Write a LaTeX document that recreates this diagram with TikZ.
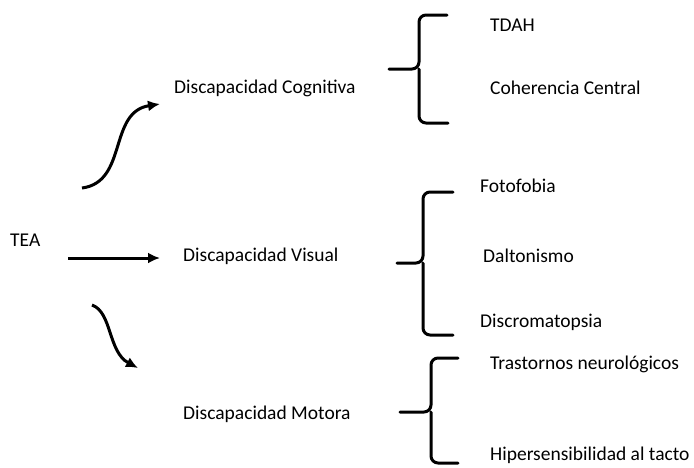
\documentclass[tikz,border=0pt]{standalone}
\usepackage{fontspec}
\setmainfont{Carlito}
\usetikzlibrary{arrows.meta}

\tikzset{
  lbl/.style={anchor=west,inner sep=0pt,font=\fontsize{19.5}{22}\selectfont},
  arr/.style={line width=3pt,-{Latex[length=12pt,width=11pt]}},
  brace/.style={line width=3pt,rounded corners=7pt,line cap=round}
}

\begin{document}
\begin{tikzpicture}[x=1pt,y=-1pt]
  \useasboundingbox (0,0) rectangle (694,467);
  % main node and categories
  \node[lbl] (tea) at (10,240) {TEA};
  \node[lbl] (cog) at (174,88) {Discapacidad Cognitiva};
  \node[lbl] (vis) at (183,256) {Discapacidad Visual};
  \node[lbl] (mot) at (183,414) {Discapacidad Motora};
  % arrows
  \coordinate (a1) at (82,188);  \coordinate (b1) at (160,104);
  \coordinate (a2) at (68,258);  \coordinate (b2) at (160,258);
  \coordinate (a3) at (92,305);  \coordinate (b3) at (138,368);
  \draw[arr] (a1) .. controls (128,182) and (108,112) .. (b1);
  \draw[arr] (a2) -- (b2);
  \draw[arr] (a3) .. controls (112,312) and (108,352) .. (b3);
  % braces
  \draw[brace] (447,15) -- (419,15) -- (419,69) -- (389,69)
               (419,69) -- (419,123) -- (448,123);
  \draw[brace] (453,192) -- (423,192) -- (423,263) -- (397,263)
               (423,263) -- (423,335) -- (453,335);
  \draw[brace] (458,358) -- (431,358) -- (431,412) -- (400,412)
               (431,412) -- (431,463) -- (458,463);
  % items
  \node[lbl] (tdah) at (490,25) {TDAH};
  \node[lbl] (coh) at (490,88) {Coherencia Central};
  \node[lbl] (foto) at (480,186) {Fotofobia};
  \node[lbl] (dalt) at (483,256) {Daltonismo};
  \node[lbl] (disc) at (480,322) {Discromatopsia};
  \node[lbl] (tras) at (490,364) {Trastornos neurológicos};
  \node[lbl] (hip) at (490,455) {Hipersensibilidad al tacto};
\end{tikzpicture}
\end{document}
